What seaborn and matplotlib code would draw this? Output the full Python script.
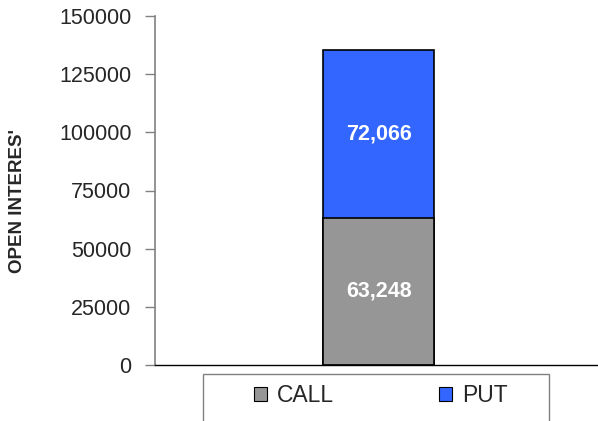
import matplotlib
matplotlib.use("Agg")
import matplotlib.pyplot as plt
import matplotlib.patches as mpatches
import seaborn as sns
import pandas as pd

# open interest by option type
category = ["Open Interest"]
call_oi = [63248]
put_oi = [72066]
series_names = ["CALL", "PUT"]
series_colors = ["#969696", "#3366ff"]

sns.set_style("white")
plt.rcParams["font.family"] = ["Liberation Sans", "DejaVu Sans"]

df = pd.DataFrame({"cat": category, "call": call_oi, "put": put_oi})
df["total"] = df["call"] + df["put"]

fig = plt.figure(figsize=(5.98, 4.21), dpi=100)
ax = fig.add_axes([155 / 598, 1 - 365 / 421, 1 - 155 / 598, (365 - 16) / 421])

# stacked: draw total as PUT, then CALL over it
sns.barplot(data=df, x="cat", y="total", color=series_colors[1], width=0.25,
            edgecolor="black", linewidth=1.2, saturation=1, ax=ax)
sns.barplot(data=df, x="cat", y="call", color=series_colors[0], width=0.25,
            edgecolor="black", linewidth=1.2, saturation=1, ax=ax)
ax.set_xlim(-0.505, 0.495)

for i, row in df.iterrows():
    ax.text(i, row["call"] / 2, f"{row['call']:,}", ha="center", va="center",
            color="white", fontsize=15.5, fontweight="bold")
    ax.text(i, row["call"] + row["put"] / 2, f"{row['put']:,}", ha="center",
            va="center", color="white", fontsize=15.5, fontweight="bold")

ax.set_ylim(0, 150000)
ax.set_yticks(range(0, 150001, 25000))
ax.tick_params(axis="y", labelsize=15.5, length=7, width=1, color="#808080",
               direction="out", left=True, pad=10)
ax.set_xticks([])
ax.set_xlabel("")
ax.set_ylabel("OPEN INTERES'", fontsize=13.5, fontweight="bold")
ax.yaxis.set_label_coords(-(155 - 26) / 443, 0.47)
for s in ["top", "right"]:
    ax.spines[s].set_visible(False)
ax.spines["left"].set_color("#808080")
ax.spines["left"].set_linewidth(1.2)
ax.spines["bottom"].set_color("black")
ax.spines["bottom"].set_linewidth(1)

# legend box
box = mpatches.Rectangle((203 / 598, -0.05), (549 - 203) / 598, 1 - 374 / 421 + 0.05,
                         transform=fig.transFigure, facecolor="white",
                         edgecolor="#808080", linewidth=1)
fig.patches.append(box)
handles = [mpatches.Patch(facecolor=c, edgecolor="black", linewidth=0.8)
           for c in series_colors]
fig.legend(handles, series_names, loc="center", bbox_to_anchor=(381 / 598, 1 - 396 / 421),
           ncol=2, frameon=False, fontsize=16.5, handlelength=0.55, handleheight=0.55,
           handletextpad=0.45, columnspacing=4.6)

fig.savefig("out.png", dpi=100)
